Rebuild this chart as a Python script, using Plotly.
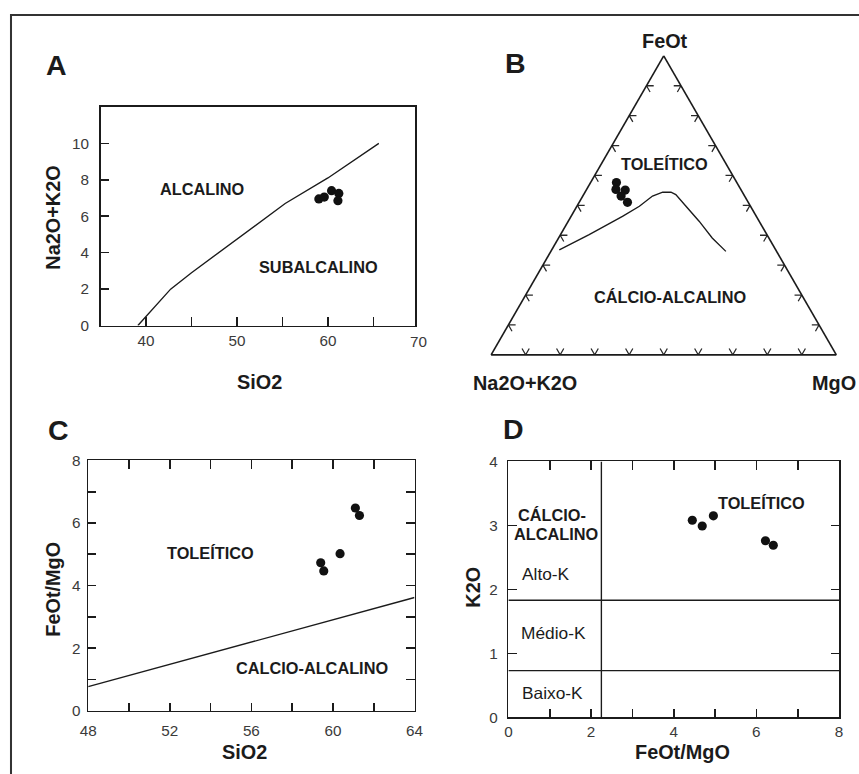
import plotly.graph_objects as go

W, H = 859, 774          # browser window / figure size
# the captured picture shows the page shrunk into (W-16)x(H-16) at an 8 px inset;
# positions below are given in picture pixels and mapped back to page paper coords
INSET = 8
SW, SH = W - 2 * INSET, H - 2 * INSET
K = W / SW               # size compensation for fonts / markers

# ---------------- data ----------------
# Panel A: TAS-type diagram (SiO2 vs Na2O+K2O)
a_sio2 = [59.0, 59.6, 60.4, 61.2, 61.1]
a_alk = [6.95, 7.05, 7.4, 7.25, 6.85]
a_div_sio2 = [39.1, 40.0, 42.7, 45.0, 50.0, 55.3, 60.0, 65.6]
a_div_alk = [0.0, 0.5, 2.0, 2.9, 4.75, 6.7, 8.1, 10.0]
a_xticks = [40, 45, 50, 55, 60, 65]
a_xtext = ["40", "", "50", "", "60", ""]
a_yticks = [0, 2, 4, 6, 8, 10]
a_xrange = [35, 69.6]

# Panel B: AFM ternary (FeOt, Na2O+K2O, MgO)
b_fe = [0.576, 0.553, 0.551, 0.531, 0.510]
b_alk = [0.349, 0.362, 0.336, 0.358, 0.350]
b_mg = [0.075, 0.085, 0.113, 0.111, 0.140]
b_div_fe = [0.351, 0.402, 0.463, 0.497, 0.531, 0.544, 0.544, 0.536, 0.497, 0.447, 0.391, 0.346]
b_div_alk = [0.627, 0.515, 0.388, 0.322, 0.267, 0.231, 0.207, 0.197, 0.187, 0.174, 0.164, 0.147]
b_div_mg = [0.022, 0.083, 0.149, 0.181, 0.202, 0.225, 0.249, 0.267, 0.316, 0.379, 0.445, 0.507]
b_ticks = [0.1, 0.2, 0.3, 0.4, 0.5, 0.6, 0.7, 0.8, 0.9]

# Panel C: SiO2 vs FeOt/MgO
c_sio2 = [59.4, 59.55, 60.35, 61.1, 61.3]
c_ratio = [4.73, 4.47, 5.02, 6.48, 6.24]
c_div_sio2 = [48, 64]
c_div_ratio = [0.77, 3.62]
c_xticks = [48, 50, 52, 54, 56, 58, 60, 62, 64]
c_xtext = ["48", "", "52", "", "56", "", "60", "", "64"]
c_yticks = [0, 1, 2, 3, 4, 5, 6, 7, 8]
c_ytext = ["0", "", "2", "", "4", "", "6", "", "8"]

# Panel D: FeOt/MgO vs K2O
d_ratio = [4.45, 4.69, 4.96, 6.22, 6.41]
d_k2o = [3.08, 2.99, 3.15, 2.76, 2.69]
d_div_ratio = 2.25
d_k_high = 1.83
d_k_low = 0.73
d_xticks = [0, 1, 2, 3, 4, 5, 6, 7, 8]
d_xtext = ["0", "", "2", "", "4", "", "6", "", "8"]
d_yticks = [0, 1, 2, 3, 4]

# ---------------- helpers (picture pixels -> paper) ----------------
def X(p):
    return (p - INSET) / SW


def Y(p):
    return 1 - (p - INSET) / SH


FONT = "Liberation Sans, Arial, sans-serif"
INK = "#1b1b1b"
TICKC = "#3a3a3a"
LINEW = 1.35 * K
MK = dict(color="#111111", size=9 * K, line=dict(width=0))

fig = go.Figure()

# Panel A
fig.add_trace(go.Scatter(x=a_div_sio2, y=a_div_alk, mode="lines",
                         line=dict(color=INK, width=LINEW), xaxis="x", yaxis="y"))
fig.add_trace(go.Scatter(x=a_sio2, y=a_alk, mode="markers", marker=MK,
                         xaxis="x", yaxis="y"))

# Panel C
fig.add_trace(go.Scatter(x=c_div_sio2, y=c_div_ratio, mode="lines",
                         line=dict(color=INK, width=LINEW), xaxis="x2", yaxis="y2"))
fig.add_trace(go.Scatter(x=c_sio2, y=c_ratio, mode="markers", marker=MK,
                         xaxis="x2", yaxis="y2"))

# Panel D
fig.add_trace(go.Scatter(x=[d_div_ratio, d_div_ratio], y=[d_yticks[0], d_yticks[-1]],
                         mode="lines", line=dict(color=INK, width=LINEW),
                         xaxis="x3", yaxis="y3"))
for k in (d_k_high, d_k_low):
    fig.add_trace(go.Scatter(x=[d_xticks[0], d_xticks[-1]], y=[k, k], mode="lines",
                             line=dict(color=INK, width=LINEW), xaxis="x3", yaxis="y3"))
fig.add_trace(go.Scatter(x=d_ratio, y=d_k2o, mode="markers", marker=MK,
                         xaxis="x3", yaxis="y3"))

# Panel B: chevron ticks on the ternary edges
dd = 0.021
ca, cb, cc = [], [], []
for t in b_ticks:
    # left edge (MgO = 0)
    ca += [t, t, t - dd, None]
    cb += [1 - t - dd, 1 - t, 1 - t, None]
    cc += [dd, 0, dd, None]
    # right edge (Na2O+K2O = 0)
    ca += [t, t, t - dd, None]
    cb += [dd, 0, dd, None]
    cc += [1 - t - dd, 1 - t, 1 - t, None]
    # bottom edge (FeOt = 0)
    ca += [dd, 0, dd, None]
    cb += [1 - t, 1 - t, 1 - t - dd, None]
    cc += [t - dd, t, t, None]
fig.add_trace(go.Scatterternary(a=ca, b=cb, c=cc, mode="lines", connectgaps=False,
                                line=dict(color="#2a2a2a", width=1.25 * K), subplot="ternary"))
fig.add_trace(go.Scatterternary(a=b_div_fe, b=b_div_alk, c=b_div_mg, mode="lines",
                                line=dict(color=INK, width=LINEW), subplot="ternary"))
fig.add_trace(go.Scatterternary(a=b_fe, b=b_alk, c=b_mg, mode="markers", marker=MK,
                                subplot="ternary"))

# ---------------- axes ----------------
def axis_common(**kw):
    d = dict(showline=True, linecolor=INK, linewidth=1.6 * K, showgrid=False, zeroline=False,
             ticks="inside", ticklen=8 * K, tickwidth=1.6 * K, tickcolor=INK,
             tickfont=dict(family=FONT, size=15 * K, color=TICKC), fixedrange=True)
    d.update(kw)
    return d

ternary_axis = dict(showline=True, linecolor=INK, linewidth=1.6 * K, showgrid=False,
                    ticks="", showticklabels=False, title=dict(text=""), min=0)

A_L, A_R = 100.7, 415.7
fig.update_layout(
    width=W, height=H,
    margin=dict(l=0, r=0, t=0, b=0),
    paper_bgcolor="white", plot_bgcolor="white",
    showlegend=False,
    font=dict(family=FONT, color=INK),
    xaxis=axis_common(domain=[X(A_L), X(A_R)], range=a_xrange,
                      tickvals=a_xticks, ticktext=a_xtext, mirror=True, anchor="y"),
    yaxis=axis_common(domain=[Y(325), Y(106)], range=[0, 12], ticklabelstandoff=7,
                      tickvals=a_yticks, mirror=True, anchor="x"),
    xaxis2=axis_common(domain=[X(88.3), X(415)], range=[48, 64], ticklabelstandoff=5,
                       tickvals=c_xticks, ticktext=c_xtext, mirror="ticks", anchor="y2"),
    yaxis2=axis_common(domain=[Y(710.7), Y(460)], range=[0, 8], ticklabelstandoff=3,
                       tickvals=c_yticks, ticktext=c_ytext, mirror="ticks", anchor="x2"),
    xaxis3=axis_common(domain=[X(509), X(840)], range=[0, 8],
                       tickvals=d_xticks, ticktext=d_xtext, mirror="ticks", anchor="y3"),
    yaxis3=axis_common(domain=[Y(717.3), Y(461)], range=[0, 4], ticklabelstandoff=6,
                       tickvals=d_yticks, mirror="ticks", anchor="x3"),
    ternary=dict(domain=dict(x=[X(491.7), X(837.3)], y=[Y(354.3), Y(54.9)]),
                 sum=1, bgcolor="white",
                 aaxis=ternary_axis, baxis=ternary_axis, caxis=ternary_axis),
)

# ---------------- text ----------------
def note(text, x, y, size=16, bold=True, angle=0, color=INK):
    fig.add_annotation(text=f"<b>{text}</b>" if bold else text,
                       x=X(x), y=Y(y), xref="paper", yref="paper",
                       xanchor="center", yanchor="middle", showarrow=False,
                       textangle=angle, font=dict(family=FONT, size=size * K, color=color))

# panel letters
note("A", 56.2, 64.5, size=28)
note("B", 515.8, 62.5, size=28)
note("C", 58.3, 429.2, size=28)
note("D", 514, 428.3, size=28)

# Panel A
note("ALCALINO", 201.8, 188.3)
note("SUBALCALINO", 319.3, 266.7)
note("Na2O+K2O", 53.3, 216.7, size=19.5, angle=-90)
note("SiO2", 259.5, 381, size=19.5)
# last x tick label of panel A sits just beyond the frame
x70 = A_L + (70 - a_xrange[0]) * (A_R - A_L) / (a_xrange[1] - a_xrange[0])
note("70", x70, 340.7, size=15, bold=False, color=TICKC)

# Panel B
note("FeOt", 665.5, 40, size=19.5)
note("Na2O+K2O", 525.8, 382.5, size=19.5)
note("MgO", 835, 382.5, size=19.5)
note("TOLEÍTICO", 665, 163.3)
note("CÁLCIO-ALCALINO", 671.2, 296)

# Panel C
note("TOLEÍTICO", 211.2, 552.7)
note("CALCIO-ALCALINO", 312.2, 668.3)
note("SiO2", 244.7, 751.7, size=19.5)
note("FeOt/MgO", 53.3, 589.2, size=19.5, angle=-90)

# Panel D
note("TOLEÍTICO", 762.5, 502.3)
note("CÁLCIO-", 553, 514.3)
note("ALCALINO", 556.7, 533.3)
note("Alto-K", 546.3, 574, size=17, bold=False)
note("Médio-K", 553.8, 633.3, size=17, bold=False)
note("Baixo-K", 553, 693.3, size=17, bold=False)
note("K2O", 473.3, 586.7, size=19.5, angle=-90)
note("FeOt/MgO", 683.3, 751.7, size=19.5)

# outer frame (runs off the right and bottom of the picture)
fig.add_shape(type="rect", xref="paper", yref="paper",
              x0=X(11), y0=Y(14), x1=X(900), y1=Y(820),
              line=dict(color="#333333", width=2 * K), fillcolor="rgba(0,0,0,0)", layer="above")

fig.write_html("out.html", config=dict(displayModeBar=False, staticPlot=True),
               post_script="document.body.style.margin='0';document.body.style.padding='0';"
                           "document.body.style.overflow='hidden';")
